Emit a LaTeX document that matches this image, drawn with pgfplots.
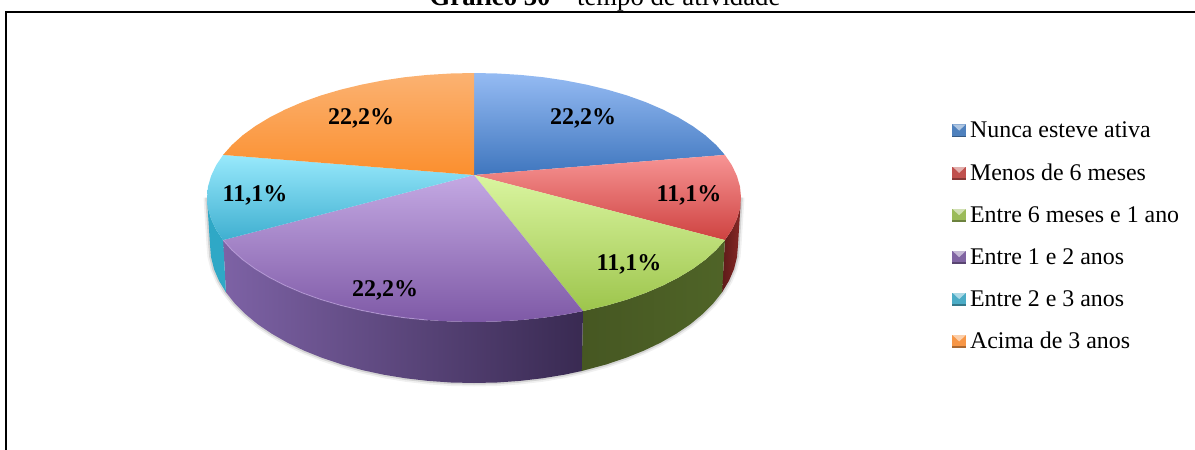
\documentclass[border=0pt]{standalone}
\usepackage{pgfplots}
\pgfplotsset{compat=1.18}
\usepackage{fontspec}
\setmainfont{Liberation Serif}
\definecolor{bluT}{HTML}{95BBF3}\definecolor{bluB}{HTML}{3F76BE}
\definecolor{redT}{HTML}{F79494}\definecolor{redB}{HTML}{CE4240}
\definecolor{greT}{HTML}{DAF5A0}\definecolor{greB}{HTML}{9DC54C}
\definecolor{purT}{HTML}{C4A9E3}\definecolor{purB}{HTML}{7E59A6}
\definecolor{cyaT}{HTML}{98E9FC}\definecolor{cyaB}{HTML}{3FAFD0}
\definecolor{oraT}{HTML}{FBB272}\definecolor{oraB}{HTML}{FB8F2E}
\definecolor{redS}{HTML}{5E1B19}\definecolor{redS2}{HTML}{872826}
\definecolor{greS}{HTML}{4F6427}\definecolor{greS2}{HTML}{465722}
\definecolor{purS1}{HTML}{7D62A5}\definecolor{purS2}{HTML}{5F4580}\definecolor{purS3}{HTML}{392A52}
\definecolor{cyaS}{HTML}{2FA8C6}
\definecolor{swB}{HTML}{4F81BD}\definecolor{swR}{HTML}{C0504D}\definecolor{swG}{HTML}{9BBB59}
\definecolor{swP}{HTML}{8064A2}\definecolor{swC}{HTML}{4BACC6}\definecolor{swO}{HTML}{F79646}
\begin{document}
\begin{tikzpicture}[x=1pt,y=1pt]
\path[use as bounding box,clip] (0,0) rectangle (1195,450);
\begin{axis}[
  at={(0,0)},anchor=south west,
  scale only axis,width=1195pt,height=450pt,
  xmin=0,xmax=1195,ymin=0,ymax=450,y dir=reverse,
  hide axis,clip=false,no markers,
  legend style={at={(0.797,0.729)},anchor=north west,draw=none,fill=none,
    inner sep=0pt,outer sep=0pt,row sep=24.6pt,
    font=\fontsize{23.9}{26}\selectfont,
    nodes={inner sep=0pt,outer sep=0pt}},
  legend cell align=left,
  legend image code/.code={
    \path[draw=none,fill=none] (0pt,0pt) rectangle (17.7pt,1pt);
    \path[#1] (0pt,-6.7pt) rectangle (13.5pt,6.3pt);
    \fill[white,opacity=.55] (0pt,6.3pt) -- (13.5pt,6.3pt) -- (6.75pt,0pt) -- cycle;
    \fill[black,opacity=.3] (0pt,-6.7pt) rectangle (13.5pt,-4.9pt);
  },
]
% frame
\addplot[forget plot,black,line width=1.7pt] coordinates {(6,450)(6,12)(1195,12)};
% soft shadow around the bottom of the pie
\addplot[forget plot,gray,opacity=.12,line width=7pt,line join=round] coordinates {
(207,197.5)(210,245)(211,257)(214,269)(219,280.7)(225.9,292.2)(234.7,303.3)(245.4,314)(257.7,324.2)(271.8,333.7)(287.3,342.6)(304.3,350.7)(322.6,358)(342,364.5)(362.4,370.1)(383.7,374.7)(405.7,378.3)(428.2,380.9)(451,382.5)(474,383)(497,382.5)(519.8,380.9)(542.3,378.3)(564.3,374.7)(581.7,371)(606,364.5)(625.4,358)(643.7,350.7)(660.7,342.6)(676.2,333.7)(690.3,324.2)(702.6,314)(713.3,303.3)(722.1,292.2)(729,280.7)(734,269)(737,257)(738,245)(741,197.5)};
\addplot[forget plot,gray,opacity=.25,line width=3.5pt,line join=round] coordinates {
(207,197.5)(210,245)(211,257)(214,269)(219,280.7)(225.9,292.2)(234.7,303.3)(245.4,314)(257.7,324.2)(271.8,333.7)(287.3,342.6)(304.3,350.7)(322.6,358)(342,364.5)(362.4,370.1)(383.7,374.7)(405.7,378.3)(428.2,380.9)(451,382.5)(474,383)(497,382.5)(519.8,380.9)(542.3,378.3)(564.3,374.7)(581.7,371)(606,364.5)(625.4,358)(643.7,350.7)(660.7,342.6)(676.2,333.7)(690.3,324.2)(702.6,314)(713.3,303.3)(722.1,292.2)(729,280.7)(734,269)(737,257)(738,245)(741,197.5)};
% sides
\addplot[forget plot,draw=none,left color=redS,right color=redS2] coordinates {
(724.9,240.1)(731.9,229.7)(736.9,219.1)(740,208.4)(741,197.5)(738,245)(737,257)(734,269)(729,280.7)(722.1,292.2)(724.9,240.1)};
\addplot[forget plot,draw=none,left color=greS2,right color=greS] coordinates {
(583,311.1)(607.5,305.3)(627.2,299.5)(645.6,292.9)(662.8,285.5)(678.5,277.5)(692.7,268.9)(705.2,259.8)(716,250.1)(724.9,240.1)(722.1,292.2)(713.3,303.3)(702.6,314)(690.3,324.2)(676.2,333.7)(660.7,342.6)(643.7,350.7)(625.4,358)(606,364.5)(581.7,371)(583,311.1)};
\addplot[forget plot,draw=none,left color=purS1,middle color=purS2,right color=purS3] coordinates {
(223.1,240.1)(232,250.1)(242.8,259.8)(255.3,268.9)(269.5,277.5)(285.2,285.5)(302.4,292.9)(320.8,299.5)(340.5,305.3)(361.2,310.3)(382.7,314.5)(404.9,317.8)(427.6,320.1)(450.7,321.5)(474,322)(497.3,321.5)(520.4,320.1)(543.1,317.8)(565.3,314.5)(583,311.1)(581.7,371)(564.3,374.7)(542.3,378.3)(519.8,380.9)(497,382.5)(474,383)(451,382.5)(428.2,380.9)(405.7,378.3)(383.7,374.7)(362.4,370.1)(342,364.5)(322.6,358)(304.3,350.7)(287.3,342.6)(271.8,333.7)(257.7,324.2)(245.4,314)(234.7,303.3)(225.9,292.2)(223.1,240.1)};
\addplot[forget plot,draw=none,fill=cyaS] coordinates {
(207,197.5)(208,208.4)(211.1,219.1)(216.1,229.7)(223.1,240.1)(225.9,292.2)(219,280.7)(214,269)(211,257)(210,245)(207,197.5)};
% top faces
\addplot[forget plot,draw=none,top color=bluT,bottom color=bluB] coordinates {
(474,175)(474,73)(497.3,73.5)(520.4,74.9)(543.1,77.2)(565.3,80.5)(586.8,84.7)(607.5,89.7)(627.2,95.5)(645.6,102.1)(662.8,109.5)(678.5,117.5)(692.7,126.1)(705.2,135.2)(716,144.9)(724.9,154.9)(474,175)};
\addplot[forget plot,draw=none,top color=redT,bottom color=redB] coordinates {
(474,175)(724.9,154.9)(731.9,165.3)(736.9,175.9)(740,186.6)(741,197.5)(740,208.4)(736.9,219.1)(731.9,229.7)(724.9,240.1)(474,175)};
\addplot[forget plot,draw=none,top color=greT,bottom color=greB] coordinates {
(474,175)(724.9,240.1)(716,250.1)(705.2,259.8)(692.7,268.9)(678.5,277.5)(662.8,285.5)(645.6,292.9)(627.2,299.5)(607.5,305.3)(583,311.1)(474,175)};
\addplot[forget plot,draw=none,top color=purT,bottom color=purB] coordinates {
(474,175)(583,311.1)(565.3,314.5)(543.1,317.8)(520.4,320.1)(497.3,321.5)(474,322)(450.7,321.5)(427.6,320.1)(404.9,317.8)(382.7,314.5)(361.2,310.3)(340.5,305.3)(320.8,299.5)(302.4,292.9)(285.2,285.5)(269.5,277.5)(255.3,268.9)(242.8,259.8)(232,250.1)(223.1,240.1)(474,175)};
\addplot[forget plot,draw=none,top color=cyaT,bottom color=cyaB] coordinates {
(474,175)(223.1,240.1)(216.1,229.7)(211.1,219.1)(208,208.4)(207,197.5)(208,186.6)(211.1,175.9)(216.1,165.3)(223.1,154.9)(474,175)};
\addplot[forget plot,draw=none,top color=oraT,bottom color=oraB] coordinates {
(474,175)(223.1,154.9)(232,144.9)(242.8,135.2)(255.3,126.1)(269.5,117.5)(285.2,109.5)(302.4,102.1)(320.8,95.5)(340.5,89.7)(361.2,84.7)(382.7,80.5)(404.9,77.2)(427.6,74.9)(450.7,73.5)(474,73)(474,175)};
% light rim on the front edge
\addplot[forget plot,purT,opacity=.55,line width=1pt] coordinates {
(223.1,240.1)(232,250.1)(242.8,259.8)(255.3,268.9)(269.5,277.5)(285.2,285.5)(302.4,292.9)(320.8,299.5)(340.5,305.3)(361.2,310.3)(382.7,314.5)(404.9,317.8)(427.6,320.1)};
% data labels
\node[font=\bfseries\fontsize{24}{26}\selectfont] at (axis cs:583,118.5) {22,2\%};
\node[font=\bfseries\fontsize{24}{26}\selectfont] at (axis cs:689,195.5) {11,1\%};
\node[font=\bfseries\fontsize{24}{26}\selectfont] at (axis cs:629,264.5) {11,1\%};
\node[font=\bfseries\fontsize{24}{26}\selectfont] at (axis cs:385,290.5) {22,2\%};
\node[font=\bfseries\fontsize{24}{26}\selectfont] at (axis cs:255,195.5) {11,1\%};
\node[font=\bfseries\fontsize{24}{26}\selectfont] at (axis cs:361,118.5) {22,2\%};
% title
\node[anchor=base,font=\fontsize{26.7}{28}\selectfont] at (axis cs:605,5) {\textbf{Gráfico 30} – tempo de atividade};
% legend
\addlegendimage{draw=none,fill=swB}\addlegendentry{Nunca esteve ativa}
\addlegendimage{draw=none,fill=swR}\addlegendentry{Menos de 6 meses}
\addlegendimage{draw=none,fill=swG}\addlegendentry{Entre 6 meses e 1 ano}
\addlegendimage{draw=none,fill=swP}\addlegendentry{Entre 1 e 2 anos}
\addlegendimage{draw=none,fill=swC}\addlegendentry{Entre 2 e 3 anos}
\addlegendimage{draw=none,fill=swO}\addlegendentry{Acima de 3 anos}
\end{axis}
\end{tikzpicture}
\end{document}
